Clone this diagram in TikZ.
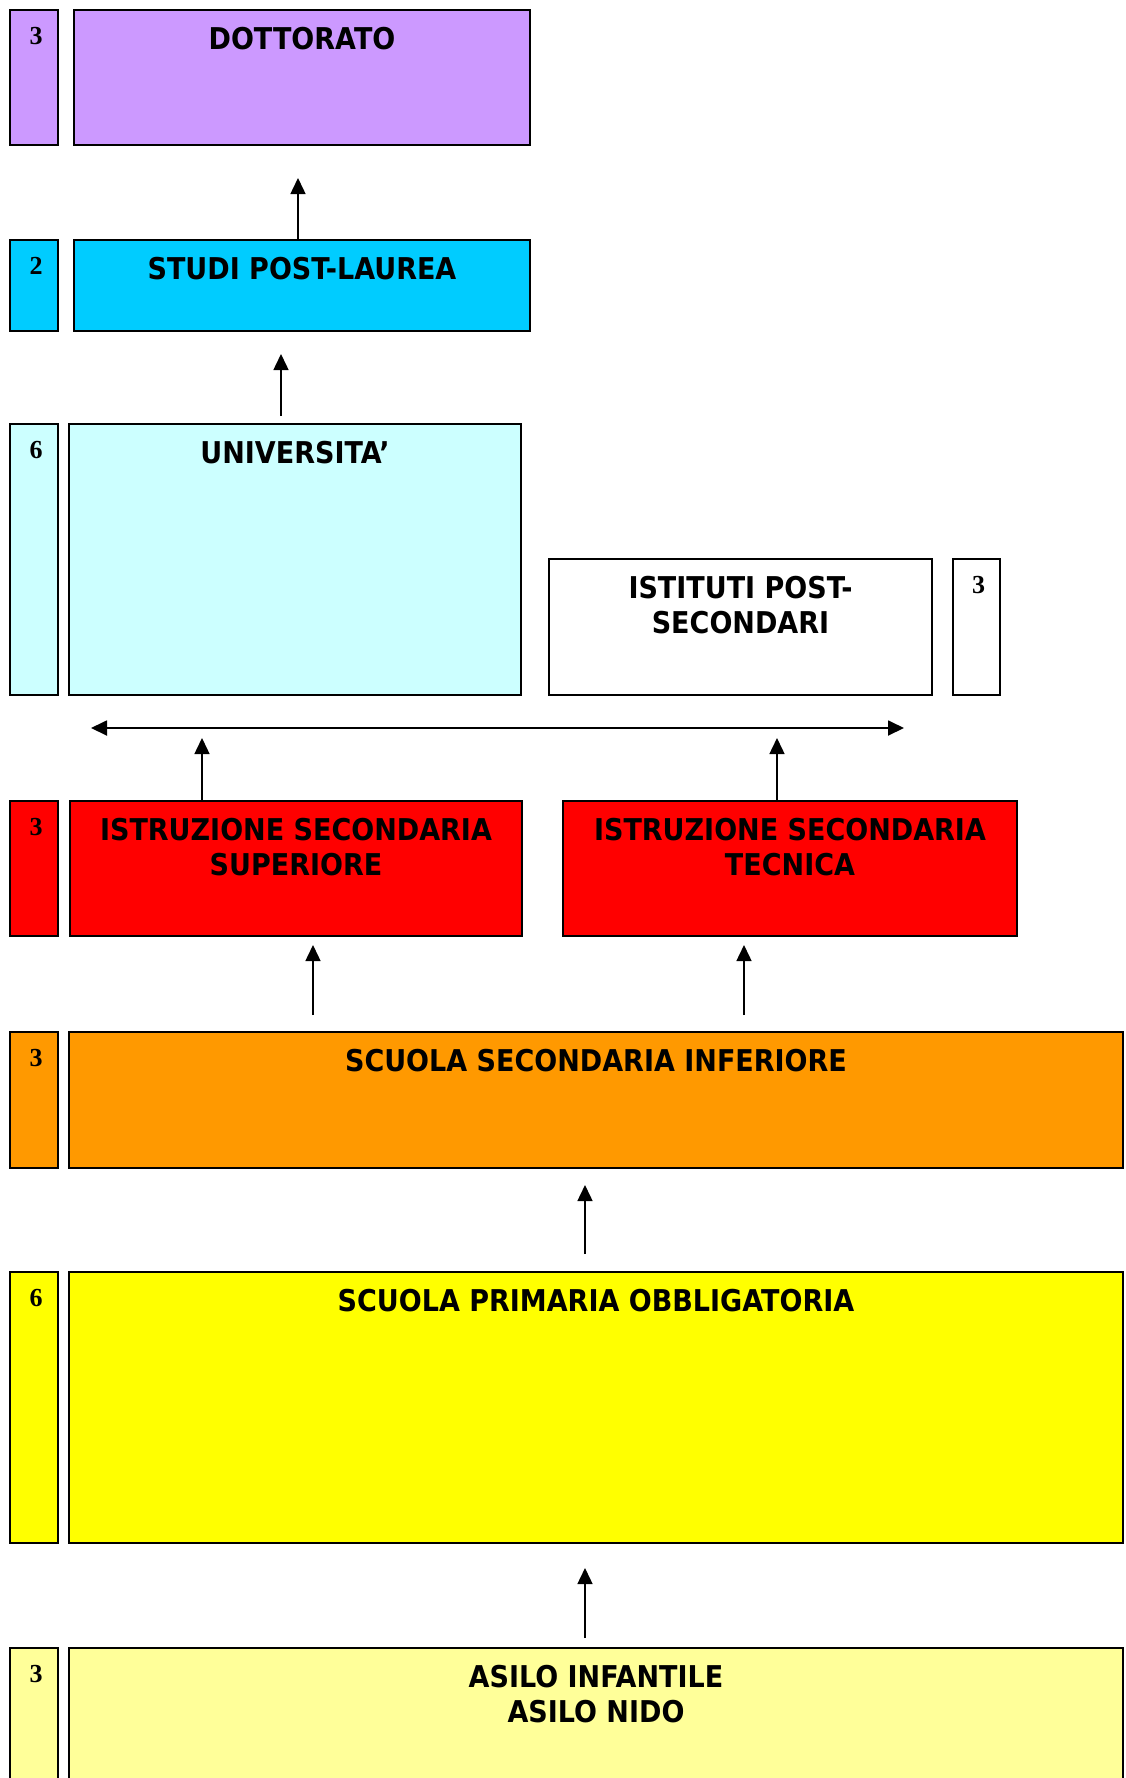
\documentclass[tikz,border=0pt]{standalone}
\usepackage{fontspec}
\usetikzlibrary{arrows.meta}
\newfontfamily\boxfont{DejaVu Sans}[FakeStretch=0.9]
\newfontfamily\yearfont{Liberation Serif}
\definecolor{lilac}{HTML}{CC99FF}
\definecolor{skyblue}{HTML}{00CCFF}
\definecolor{paleblue}{HTML}{CCFFFF}
\definecolor{boxred}{HTML}{FF0000}
\definecolor{boxorange}{HTML}{FF9900}
\definecolor{boxyellow}{HTML}{FFFF00}
\definecolor{paleyellow}{HTML}{FFFF99}

\begin{document}
\begin{tikzpicture}[x=0.5pt, y=-0.5pt,
    boxsize/.style 2 args={minimum width=#1*0.5pt, minimum height=#2*0.5pt}]
      \tikzstyle{block} = [draw, line width=1pt, rectangle, inner sep=0pt]
      \tikzstyle{title} = [anchor=north, yshift=-9pt, inner sep=0pt,
                           align=center,
                           font=\boxfont\bfseries\fontsize{15}{17.5}\selectfont]
      \tikzstyle{years} = [anchor=north, yshift=-9pt, xshift=1pt, inner sep=0pt,
                           font=\yearfont\bfseries\fontsize{13}{14}\selectfont]
      \tikzstyle{arrow} = [-{Triangle[length=8pt,width=7.5pt]}, line width=0.75pt]

      \useasboundingbox (0,0) rectangle (1125,1778);

      \node[block, fill=lilac, boxsize={48}{135}, label={[years]north:3}] (dottyrs) at (34,77.5) {};
      \node[block, fill=lilac, boxsize={456}{135}, label={[title]north:DOTTORATO}] (dott) at (302,77.5) {};

      \node[block, fill=skyblue, boxsize={48}{91}, label={[years]north:2}] (studiyrs) at (34,285.5) {};
      \node[block, fill=skyblue, boxsize={456}{91}, label={[title]north:STUDI POST-LAUREA}] (studi) at (302,285.5) {};

      \node[block, fill=paleblue, boxsize={48}{271}, label={[years]north:6}] (univyrs) at (34,559.5) {};
      \node[block, fill=paleblue, boxsize={452}{271}, label={[title]north:UNIVERSITA’}] (univ) at (295,559.5) {};

      \node[block, fill=white, boxsize={383}{136}, label={[title]north:{ISTITUTI POST-\\SECONDARI}}] (ist) at (740.5,627) {};
      \node[block, fill=white, boxsize={47}{136}, label={[years]north:3}] (istyrs) at (976.5,627) {};

      \node[block, fill=boxred, boxsize={48}{135}, label={[years]north:3}] (supyrs) at (34,868.5) {};
      \node[block, fill=boxred, boxsize={452}{135}, label={[title]north:{ISTRUZIONE SECONDARIA\\SUPERIORE}}] (sup) at (296,868.5) {};
      \node[block, fill=boxred, boxsize={454}{135}, label={[title]north:{ISTRUZIONE SECONDARIA\\TECNICA}}] (tec) at (790,868.5) {};

      \node[block, fill=boxorange, boxsize={48}{136}, label={[years]north:3}] (ssiyrs) at (34,1100) {};
      \node[block, fill=boxorange, boxsize={1054}{136}, label={[title]north:SCUOLA SECONDARIA INFERIORE}] (ssi) at (596,1100) {};

      \node[block, fill=boxyellow, boxsize={48}{271}, label={[years]north:6}] (primyrs) at (34,1407.5) {};
      \node[block, fill=boxyellow, boxsize={1054}{271}, label={[title]north:SCUOLA PRIMARIA OBBLIGATORIA}] (prim) at (596,1407.5) {};

      \node[block, fill=paleyellow, boxsize={48}{272}, label={[years]north:3}] (asiloyrs) at (34,1784) {};
      \node[block, fill=paleyellow, boxsize={1054}{272}, label={[title]north:{ASILO INFANTILE\\ASILO NIDO}}] (asilo) at (596,1784) {};

      % arrow tips
      \coordinate (dotttip) at (298,178);
      \coordinate (studitip) at (281,354);
      \coordinate (splitL) at (91,728);
      \coordinate (splitR) at (904,728);
      \coordinate (suptip) at (202,738);
      \coordinate (tectip) at (777,738);
      \coordinate (ssitipA) at (313,945);
      \coordinate (ssitipB) at (744,945);
      \coordinate (primtip) at (585,1185);
      \coordinate (asilotip) at (585,1568);

      \draw[arrow] (studi.north -| dotttip) -- (dotttip);
      \draw[arrow, shorten <=3.5pt] (univ.north -| studitip) -- (studitip);
      \draw[{Triangle[length=8pt,width=7.5pt]}-{Triangle[length=8pt,width=7.5pt]},
            line width=0.9pt] (splitL) -- (splitR);
      \draw[arrow] (sup.north -| suptip) -- (suptip);
      \draw[arrow] (tec.north -| tectip) -- (tectip);
      \draw[arrow, shorten <=8pt] (ssi.north -| ssitipA) -- (ssitipA);
      \draw[arrow, shorten <=8pt] (ssi.north -| ssitipB) -- (ssitipB);
      \draw[arrow, shorten <=8.5pt] (prim.north -| primtip) -- (primtip);
      \draw[arrow, shorten <=4.5pt] (asilo.north -| asilotip) -- (asilotip);
    \end{tikzpicture}
\end{document}
